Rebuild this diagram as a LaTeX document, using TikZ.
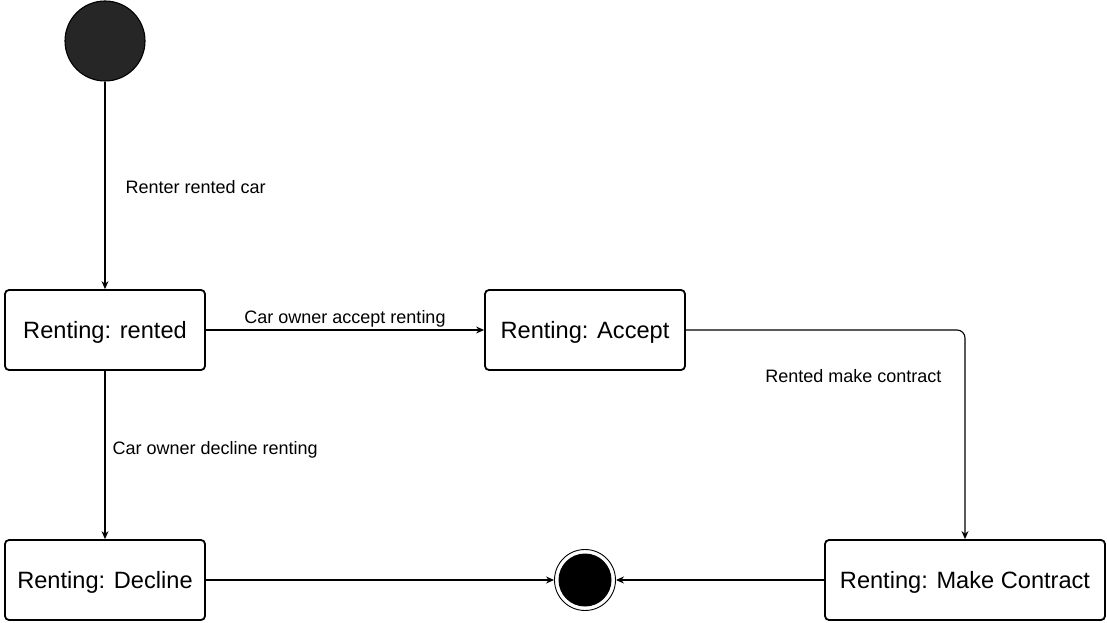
\documentclass[tikz,border=0pt]{standalone}
\usepackage{fontspec}
\setmainfont{Liberation Sans}
\usetikzlibrary{arrows.meta,positioning}

\begin{document}
\begin{tikzpicture}[->, >={Stealth[length=8pt,width=7pt]}, line width=1.1pt,
                node distance=250pt,
                state node/.style={rectangle, draw, line width=1.8pt, rounded corners=4pt,
                  minimum width=200pt, minimum height=80pt, text depth=0pt,
                  font=\fontsize{23.6}{28}\selectfont},
                init node/.style={circle, draw, fill=black!85, minimum size=80pt, inner sep=0pt},
                final node/.style={circle, draw, line width=0.9pt, minimum size=61pt, inner sep=0pt,
                  path picture={\fill (path picture bounding box.center) circle (26.5pt);}},
                lbl/.style={inner sep=0pt, font=\fontsize{18}{20}\selectfont}]

  \useasboundingbox (0,0) rectangle (1107pt,622pt);

  \node[init node] (start) at (105pt,581pt) {};
  \node[state node] (rented) [below of=start, node distance=289pt] {Renting: rented};
  \node[state node] (accept) [right of=rented, node distance=480pt] {Renting: Accept};
  \node[state node] (decline) [below of=rented] {Renting: Decline};
  \node[final node] (end) [right of=decline, node distance=480pt] {};
  \node[state node, minimum width=280pt] (contract) [right of=end, node distance=380pt] {Renting: Make Contract};

  \path
    (start) edge node[lbl, right=20pt, yshift=-2pt] {Renter rented car} (rented)
    (rented) edge node[lbl, above=2pt] {Car owner accept renting} (accept)
    (rented) edge node[lbl, right=7pt, yshift=5pt] {Car owner decline renting} (decline)
    (decline) edge (end)
    (contract) edge (end);

  \draw[rounded corners=8pt] (accept) -| node[lbl, pos=0.61, left=23pt] {Rented make contract} (contract);
\end{tikzpicture}
\end{document}
